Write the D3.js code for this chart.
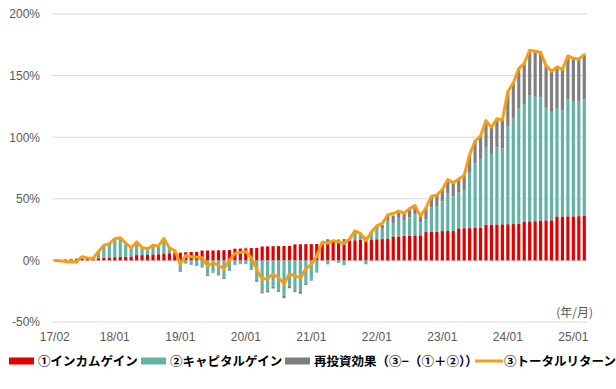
<!DOCTYPE html>
<html>
<head>
<meta charset="utf-8">
<script src="https://cdn.jsdelivr.net/npm/d3@7"></script>
<style>
  body { margin: 0; background: #fff; }
  text { font-family: "Liberation Sans", Arial, sans-serif; }
  .legend text { font-family: "Noto Sans CJK JP", sans-serif; font-weight: bold; font-size: 12.5px; fill: #000; }
</style>
</head>
<body>
<svg id="chart" width="616" height="389"></svg>
<script>
// month categories 17/02 .. 25/03
const months = d3.timeMonth.range(new Date(2017, 1, 1), new Date(2025, 3, 1)).map(d3.timeFormat('%y/%m'));
const tickLabels = ['17/02', '18/01', '19/01', '20/01', '21/01', '22/01', '23/01', '24/01', '25/01'];
const yTicks = [-50, 0, 50, 100, 150, 200];

// ① income gain (%)
const income = [
  0, 0.2, 0.5, 0.8, 1.0, 1.2, 1.4, 1.6, 1.8, 2.2,
  2.4, 2.6, 2.8, 3.0, 3.2, 4.3, 4.3, 4.4, 4.9, 5.0,
  5.2, 5.8, 6.0, 6.3, 6.6, 6.8, 7.0, 8.0, 8.0, 8.1,
  8.2, 8.3, 8.4, 9.5, 9.6, 9.7, 10.0, 10.1, 11.3, 11.4,
  11.5, 11.6, 11.7, 11.8, 13.0, 13.1, 13.2, 13.2, 13.3, 13.4,
  15.0, 15.2, 15.3, 15.4, 16.2, 16.4, 17.0, 17.0, 17.1, 17.2,
  17.3, 17.4, 19.4, 19.5, 20.0, 20.2, 20.3, 20.4, 23.0, 23.1,
  23.2, 23.8, 23.9, 24.0, 26.0, 26.1, 26.2, 26.3, 26.4, 29.0,
  29.1, 29.2, 29.3, 29.4, 29.5, 29.6, 31.6, 31.7, 31.8, 32.4,
  32.5, 32.6, 35.7, 35.7, 35.8, 35.8, 35.9, 36.0
];

// ② capital gain (%)
const capital = [
  0, -0.5, -2, -2.3, -2.5, 1.5, 0.4, 0, 5, 10,
  11, 14.8, 15.4, 10.8, 7, 10.5, 6, 5, 7.1, 6.4,
  12.2, 4.3, 1.8, -8.2, -2.2, -3.4, -4.0, -5.2, -11.5, -9.2,
  -11.2, -13.7, -7.8, -3.5, -2.7, -3, -7.2, -16, -25.3, -24.3,
  -21.4, -24.2, -28.5, -20.4, -24.3, -25, -18.6, -15.6, -9, 0.3,
  -3.2, 0.5, -2, -3.8, 0, 6, 3.3, -3.2, 4.9, 8,
  8.4, 15.3, 11, 15, 12.7, 14.8, 17, 10.6, 10.2, 20,
  20.8, 24.2, 30.4, 28, 29, 31, 45, 52.3, 56, 62.4,
  57.4, 62.7, 61.5, 79.5, 85.6, 93.6, 95.4, 102, 101, 100,
  92, 88, 88, 86, 94.7, 93, 93, 94.5
];

// reinvestment effect ③−(①+②) (%)
const reinvest = [
  0, 0, 0.5, 0.5, 0.5, 0.3, 0.2, 0, 0.2, 0.2,
  0.1, 0.2, 0.2, 0.2, 0.1, 0.2, 0.2, 0.1, 0.2, 0.2,
  0.4, 0.2, 0.2, -1.1, -0.4, -0.4, -0.5, -0.6, -1.1, -0.8,
  -1, -1.4, -0.6, -0.3, -0.4, 0.6, -0.6, -1.4, -1.4, -1.7,
  -1.4, -1.4, -2.2, -2.2, -1.4, -2.1, -1.4, -0.8, -0.8, 1.3,
  2.2, 0.3, 1.7, 2, 1.3, 2, 1.3, 2.2, 1, 2.3,
  3, 3.3, 6, 4.5, 5.8, 6, 7.2, 5, 9.5, 8.9,
  9, 9.6, 11.4, 11, 11, 11.9, 14.8, 18.2, 18.6, 22,
  21.5, 23, 23.2, 28, 29, 32.5, 33, 36.8, 37, 36.6,
  33.5, 33, 33.3, 33.3, 35.5, 35.2, 34.6, 36.5
];

// ③ total return (%)
const total = [
  0, -0.3, -1, -1, -1, 3, 2, 1.6, 7, 12.4,
  13.5, 17.6, 18.4, 14, 10.3, 15, 10.5, 9.5, 12.2, 11.6,
  17.8, 10.3, 8, -3, 4, 3, 2.5, 2.2, -4.6, -1.9,
  -4, -6.8, 0, 5.7, 6.5, 7.3, 2.2, -7.3, -15.4, -14.6,
  -11.3, -14, -19, -10.8, -12.7, -14, -6.8, -3.2, 3.5, 15,
  14, 16, 15, 13.5, 17.5, 24, 22, 16, 23, 28,
  30, 37, 38, 40, 38.5, 42, 44.5, 36, 42.7, 52,
  53, 57.6, 65.7, 63, 66, 69, 86, 96.8, 101, 113.5,
  108, 115, 114, 137, 144, 155.7, 160, 170.5, 169.7, 169,
  158, 153.5, 157, 155, 166, 164, 163.5, 167
];

const seriesKeys = ['income', 'capital', 'reinvest'];
const colors = { income: '#e00000', capital: '#62b3a6', reinvest: '#7f7f7f', total: '#f79d16' };
const legendItems = [
  { key: 'income', label: '①インカムゲイン', x: 9 },
  { key: 'capital', label: '②キャピタルゲイン', x: 141 },
  { key: 'reinvest', label: '再投資効果（③−（①＋②））', x: 285 },
  { key: 'total', label: '③トータルリターン', x: 475 }
];

const rows = months.map((m, i) => ({
  month: m, income: income[i], capital: capital[i], reinvest: reinvest[i], total: total[i]
}));

const svg = d3.select('#chart');
const plot = { left: 52, right: 587, top: 14, bottom: 322 };

const x = d3.scaleBand().domain(months).range([plot.left, plot.right]).paddingInner(0.42).paddingOuter(0.21);
const y = d3.scaleLinear().domain([-50, 200]).range([plot.bottom, plot.top]);

// gridlines
svg.append('g')
  .selectAll('line')
  .data(yTicks)
  .join('line')
  .attr('x1', plot.left).attr('x2', plot.right)
  .attr('y1', d => y(d)).attr('y2', d => y(d))
  .attr('stroke', '#d9d9d9')
  .attr('stroke-width', 1);

// y axis labels
const yAxis = d3.axisLeft(y).tickValues(yTicks).tickFormat(d => d + '%').tickSize(0).tickPadding(0);
svg.append('g')
  .attr('transform', `translate(${plot.left - 12},0)`)
  .call(yAxis)
  .call(g => g.select('.domain').remove())
  .call(g => g.selectAll('text').attr('fill', '#595959').style('font-size', '12px'));

// x axis labels
const xAxis = d3.axisBottom(x).tickValues(tickLabels).tickSize(0).tickPadding(0);
svg.append('g')
  .attr('transform', `translate(0,${plot.bottom + 10})`)
  .call(xAxis)
  .call(g => g.select('.domain').remove())
  .call(g => g.selectAll('text').attr('fill', '#595959').style('font-size', '12px'));

svg.append('text')
  .attr('x', 593).attr('y', 317)
  .attr('text-anchor', 'end')
  .attr('fill', '#595959')
  .style('font-size', '12px')
  .style('font-family', '"Noto Sans CJK JP", sans-serif')
  .text('(年/月)');

// stacked bars
const stacked = d3.stack().keys(seriesKeys).offset(d3.stackOffsetDiverging)(rows);

svg.append('g')
  .selectAll('g')
  .data(stacked)
  .join('g')
  .attr('fill', d => colors[d.key])
  .selectAll('rect')
  .data(d => d)
  .join('rect')
  .attr('x', d => x(d.data.month))
  .attr('width', x.bandwidth())
  .attr('y', d => y(Math.max(d[0], d[1])))
  .attr('height', d => Math.abs(y(d[0]) - y(d[1])));

// total return line
const line = d3.line()
  .x(d => x(d.month) + x.bandwidth() / 2)
  .y(d => y(d.total));

svg.append('path')
  .datum(rows)
  .attr('fill', 'none')
  .attr('stroke', colors.total)
  .attr('stroke-width', 3)
  .attr('stroke-linejoin', 'round')
  .attr('stroke-linecap', 'round')
  .attr('d', line);

// legend
const legend = svg.append('g').classed('legend', true).attr('transform', 'translate(0,361)');
legendItems.forEach(item => {
  const g = legend.append('g').attr('transform', `translate(${item.x},0)`);
  if (item.key === 'total') {
    g.append('line').attr('x1', 0).attr('x2', 28).attr('y1', 0).attr('y2', 0)
      .attr('stroke', colors.total).attr('stroke-width', 3);
    g.append('text').attr('x', 29).attr('y', 0).attr('dy', '0.36em').text(item.label);
  } else {
    g.append('rect').attr('x', 0).attr('y', -3.5).attr('width', 25).attr('height', 7)
      .attr('fill', colors[item.key]);
    g.append('text').attr('x', 29).attr('y', 0).attr('dy', '0.36em').text(item.label);
  }
});
</script>
</body>
</html>
